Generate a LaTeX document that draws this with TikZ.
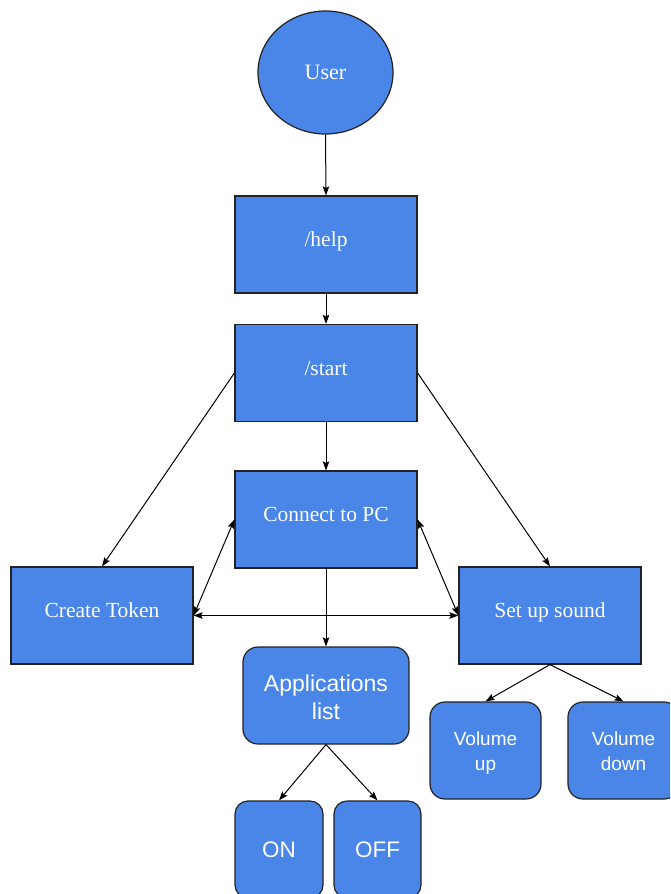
\documentclass[tikz,border=0pt]{standalone}
\usepackage{fontspec}
\setmainfont{Liberation Serif}
\setsansfont{Liberation Sans}
\usetikzlibrary{shapes.geometric,arrows.meta}
\definecolor{gblue}{HTML}{4A86E8}
\definecolor{gline}{HTML}{222222}
\newcommand{\topstrut}[1]{\rule{0pt}{#1}}
\newcommand{\botstrut}[1]{\rule[-#1]{0pt}{#1}}
\begin{document}
\begin{tikzpicture}[x=1pt,y=-1pt,
  base/.style={draw=gline,line width=1.2pt,fill=gblue,text=white,inner sep=0pt,align=center},
  sqbox/.style={base,rectangle,minimum width=182pt,minimum height=97pt,text height=15pt,text depth=11pt,font=\fontsize{21.5}{24}\selectfont},
  rbox/.style={base,rectangle,rounded corners=15pt,font=\sffamily\fontsize{22.5}{28}\selectfont},
  conn/.style={line width=1pt,draw=black,-{Stealth[length=9pt,width=6.5pt,inset=1.5pt]}},
  dconn/.style={line width=1pt,draw=black,{Stealth[length=9pt,width=6.5pt,inset=1.5pt]}-{Stealth[length=9pt,width=6.5pt,inset=1.5pt]}}
]
\useasboundingbox (0,0) rectangle (670,894);
\clip (0,0) rectangle (670,894);
\node[base,ellipse,minimum width=135pt,minimum height=123pt,font=\fontsize{22}{24}\selectfont] (user) at (325.5,72.5) {User};
\node[sqbox] (help) at (326,244.5) {/help};
\node[sqbox] (start) at (326,373) {/start};
\node[sqbox] (connect) at (326,519.5) {Connect to PC};
\node[sqbox] (token) at (102,615.5) {Create Token};
\node[sqbox] (sound) at (550,615.5) {Set up sound};
\node[rbox,minimum width=166pt,minimum height=97pt,font=\sffamily\fontsize{23}{28}\selectfont] (apps) at (326,695.5) {\topstrut{21pt}Applications\\list\botstrut{2pt}};
\node[rbox,minimum width=111pt,minimum height=97pt,font=\sffamily\fontsize{19}{25}\selectfont] (volup) at (485.5,750.5) {\topstrut{20pt}Volume\\up\botstrut{5pt}};
\node[rbox,minimum width=111pt,minimum height=97pt,font=\sffamily\fontsize{19}{25}\selectfont] (voldown) at (623.5,750.5) {\topstrut{20pt}Volume\\down\botstrut{5pt}};
\node[rbox,rounded corners=13pt,minimum width=88pt,minimum height=97pt] (on) at (279,849.5) {ON};
\node[rbox,rounded corners=13pt,minimum width=87pt,minimum height=97pt] (off) at (377.5,849.5) {OFF};
\draw[conn] (user.south) -- (help.north);
\draw[conn] (help.south) -- (start.north);
\draw[conn] (start.south) -- (connect.north);
\draw[conn] (start.west) -- (token.north);
\draw[conn] (start.east) -- (sound.north);
\draw[conn] (connect.south) -- (apps.north);
\draw[dconn] (connect.west) -- (token.east);
\draw[dconn] (connect.east) -- (sound.west);
\draw[dconn] (token.east) -- (sound.west);
\draw[conn] (sound.south) -- (volup.north);
\draw[conn] (sound.south) -- (voldown.north);
\draw[conn] (apps.south) -- (on.north);
\draw[conn] (apps.south) -- (off.north);
\end{tikzpicture}
\end{document}
